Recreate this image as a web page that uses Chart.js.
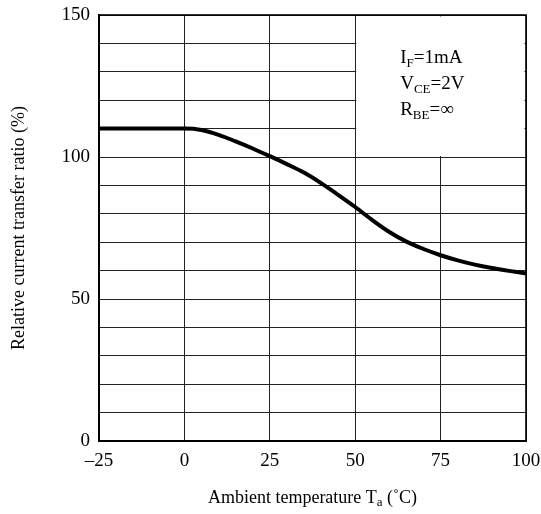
<!DOCTYPE html>
<html>
<head>
<meta charset="utf-8">
<script src="https://cdn.jsdelivr.net/npm/chart.js@4/dist/chart.umd.min.js"></script>
<style>
html,body{margin:0;padding:0;background:#fff;}
#wrap{width:541px;height:514px;position:relative;}
</style>
</head>
<body>
<div id="wrap"><canvas id="c" width="541" height="514"></canvas></div>
<script>
// Data
const temperatures = [-25,-20,-15,-10,-5,0,5,10,15,20,25,30,35,40,45,50,55,60,65,70,75,80,85,90,95,100];
const ratioValues  = [110,110,110,110,110,110,109.5,107.8,105.5,103,100.3,97.5,94.5,90.8,86.7,82.4,77.8,73.6,70.2,67.6,65.4,63.6,62.1,60.9,59.9,59];
const xTickValues = [-25,0,25,50,75,100];
const yTickLabels = [0,50,100,150];
const conditionLines = [["I","F","=1mA"],["V","CE","=2V"],["R","BE","=\u221E"]];
const xTitleParts = ["Ambient temperature T","a"," (\u02DAC)"];
const yTitle = "Relative current transfer ratio (%)";

const SERIF = "'Liberation Serif','Times New Roman',serif";

const overlay = {
  id:'overlay',
  beforeDatasetsDraw(chart){
    const {ctx, scales:{x,y}, chartArea:a} = chart;
    const l = x.getPixelForValue(50)+1, r = a.right-1.5;
    const t = a.top+1.5, b = y.getPixelForValue(100)-1;
    ctx.save();
    ctx.fillStyle='#fff';
    ctx.fillRect(l,t,r-l,b-t);
    // frame
    ctx.strokeStyle='#000'; ctx.lineWidth=1.6;
    ctx.strokeRect(a.left,a.top,a.right-a.left,a.bottom-a.top);
    ctx.fillStyle='#000';
    ctx.textBaseline='alphabetic';
    let by = a.top+48;
    const x0 = x.getPixelForValue(50)+45;
    conditionLines.forEach(parts=>{
      let cx = x0;
      ctx.font = "19px "+SERIF; ctx.fillText(parts[0],cx,by); cx+=ctx.measureText(parts[0]).width;
      ctx.font = "13px "+SERIF; ctx.fillText(parts[1],cx,by+4); cx+=ctx.measureText(parts[1]).width;
      ctx.font = "19px "+SERIF; ctx.fillText(parts[2],cx,by); 
      by += 26;
    });
    ctx.restore();
  },
  afterDraw(chart){
    const {ctx, chartArea:a} = chart;
    ctx.save();
    ctx.fillStyle='#000';
    ctx.textBaseline='alphabetic';
    const f1="18px "+SERIF, f2="13px "+SERIF;
    ctx.font=f1; const w0=ctx.measureText(xTitleParts[0]).width, w2=ctx.measureText(xTitleParts[2]).width;
    ctx.font=f2; const w1=ctx.measureText(xTitleParts[1]).width;
    let cx = (a.left+a.right)/2 - (w0+w1+w2)/2;
    const by = 503;
    ctx.font=f1; ctx.fillText(xTitleParts[0],cx,by); cx+=w0;
    ctx.font=f2; ctx.fillText(xTitleParts[1],cx,by+3); cx+=w1;
    ctx.font=f1; ctx.fillText(xTitleParts[2],cx,by);
    ctx.restore();
  }
};

new Chart(document.getElementById('c'),{
  type:'line',
  data:{
    datasets:[{
      data: temperatures.map((t,i)=>({x:t,y:ratioValues[i]})),
      borderColor:'#000',
      borderWidth:4,
      pointRadius:0,
      cubicInterpolationMode:'monotone',
      fill:false
    }]
  },
  options:{
    responsive:false,
    animation:false,
    layout:{padding:{top:15,right:15,left:0,bottom:0}},
    plugins:{legend:{display:false},tooltip:{enabled:false}},
    scales:{
      x:{
        type:'linear', min:-25, max:100,
        afterFit(s){ s.height = 73; s.paddingLeft = 0; s.paddingRight = 0; },
        afterBuildTicks(s){ s.ticks = xTickValues.map(v=>({value:v})); },
        grid:{color:'#222',lineWidth:1,drawTicks:false},
        border:{color:'#000',width:2},
        ticks:{color:'#000',padding:9,font:{family:SERIF,size:19},maxRotation:0,
          callback:v=> v<0 ? '\u2013'+Math.abs(v) : String(v)}
      },
      y:{
        type:'linear', min:0, max:150,
        afterFit(s){ s.width = 99; s.paddingTop = 0; s.paddingBottom = 0; },
        ticks:{stepSize:10,color:'#000',padding:9,font:{family:SERIF,size:19},
          callback:v=> yTickLabels.includes(v) ? String(v) : ''},
        grid:{color:'#222',lineWidth:1,drawTicks:false},
        border:{color:'#000',width:2},
        title:{display:true,text:yTitle,color:'#000',font:{family:SERIF,size:18},padding:{top:8,bottom:12}}
      }
    }
  },
  plugins:[overlay]
});
</script>
</body>
</html>
